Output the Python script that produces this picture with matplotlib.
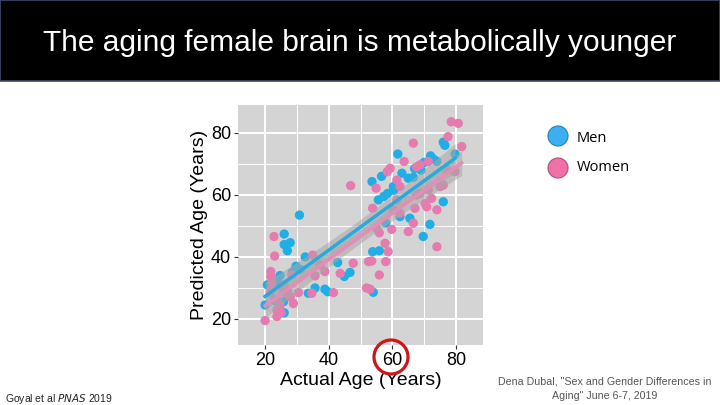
import numpy as np
import matplotlib.pyplot as plt
from matplotlib.patches import Rectangle, Ellipse

plt.rcParams['font.family'] = ['Liberation Sans', 'DejaVu Sans']

# Men (actual age, predicted age)
men_age = [20, 20.7, 23, 24.7, 26, 26, 27, 27.9, 26, 25.8, 30.8, 29.7, 32.6, 33.6,
           35.7, 38.8, 39.7, 42.8, 44.9, 46.7, 53.6, 54, 53.8, 55.9, 56.6, 55.6,
           57.3, 57.9, 61.7, 65.5, 65, 69.7, 71.8, 72, 76, 76.5, 76, 79.7, 74, 69,
           60.3, 62.4, 66.6, 22, 24, 28.5, 31, 63, 67, 70, 73, 58.5, 60.5, 68, 24]
men_pred = [24.5, 31, 26, 34, 47.4, 44, 42, 44.6, 22, 25.6, 53.5, 37, 40, 28.3,
            30, 29.6, 28.8, 38.2, 33.7, 35, 64.3, 28.6, 41.7, 42, 66, 58.4,
            59.5, 51, 73.2, 52.5, 65.4, 46.6, 50.5, 72.6, 77, 76, 57.8, 73.2, 70.8, 68,
            62.7, 53, 65.7, 30, 32, 35, 36, 67, 68.5, 70.5, 71.5, 60.5, 61.5, 69, 22.5]

# Women (actual age, predicted age)
women_age = [20, 22.8, 23, 21.8, 21.8, 22.1, 21.6, 23.7, 23.7, 24.7, 25.8, 26.8,
             27.9, 28.9, 30.5, 28.4, 34.7, 35, 35.7, 37.3, 38.8, 41.5, 43.6, 46.9,
             47.7, 51.9, 53, 52.5, 53.5, 53.8, 55, 55.9, 55.9, 54.9, 57.7, 57.9,
             58.7, 59.8, 58.4, 59.3, 61.4, 62.4, 63.7, 65, 66.6, 66.6, 67.6, 68.7,
             67.1, 68.7, 70.8, 71.3, 71.3, 74, 74, 75, 76, 77.5, 78.5, 80.7, 81.8,
             79.7, 77.1, 70.3, 72.3, 60.3, 62.4, 61.4, 67.6, 22, 24, 26, 27, 25]
women_pred = [19.5, 46.6, 40.3, 35.3, 33.7, 32, 28.3, 23, 20.8, 24.5, 29.4, 28.3,
              27.2, 25, 28.5, 34.2, 28.3, 40.6, 33.9, 37.4, 35.3, 28.5, 34.7, 63,
              38, 30, 29.6, 38.5, 38.7, 55.7, 49.2, 47.8, 34.2, 62.2, 44.4, 38.5,
              41.7, 48.9, 67.5, 68.6, 64.8, 62.7, 70.8, 48.2, 76.7, 50.9, 69, 69.7,
              55.7, 60.5, 56.2, 61.6, 70.8, 55.2, 43.3, 62.7, 63.2, 78.8, 83.6, 83.1, 75.6,
              67.5, 68.1, 57.2, 58.9, 55.2, 54.1, 58.4, 60, 30, 26, 31, 29, 22]

men_col = '#1FAEE6'
women_col = '#E57BAF'

fig = plt.figure(figsize=(7.2, 4.05), dpi=100)

# title bar
fig.patches.append(Rectangle((0, 0.8), 1, 0.2, transform=fig.transFigure,
                             facecolor='black', edgecolor='#3C4C6C', lw=1.2))
fig.text(0.5, 0.893, 'The aging female brain is metabolically younger',
         color='white', fontsize=21.5, ha='center', va='center')

ax = fig.add_axes([0.3306, 0.1481, 0.3403, 0.5926])
ax.set_facecolor('#D4D4D4')
ax.set_xlim(11.5, 88.5)
ax.set_ylim(11.6, 89)
ax.set_xticks([20, 40, 60, 80])
ax.set_yticks([20, 40, 60, 80])
ax.set_xticks([30, 50, 70], minor=True)
ax.set_yticks([30, 50, 70], minor=True)
ax.grid(which='major', color='white', lw=1.4)
ax.grid(which='minor', color='white', lw=0.7)
ax.set_axisbelow(True)
for s in ax.spines.values():
    s.set_visible(False)
ax.tick_params(which='major', length=3, color='#333333', labelsize=13, pad=2)
ax.tick_params(which='minor', length=0)
ax.set_xlabel('Actual Age (Years)', fontsize=14, labelpad=2)
ax.set_ylabel('Predicted Age (Years)', fontsize=14, labelpad=2)

for xs, ys, c, lc in [(men_age, men_pred, men_col, '#2AA8E0'),
                      (women_age, women_pred, women_col, '#E78BB9')]:
    x = np.array(xs)
    y = np.array(ys)
    ax.scatter(x, y, s=45, color=c, edgecolor='none', zorder=3)
    # linear fit with 95% band
    b, a = np.polyfit(x, y, 1)
    xx = np.linspace(x.min(), x.max(), 50)
    yy = a + b * xx
    res = y - (a + b * x)
    s = np.sqrt(np.sum(res ** 2) / (len(x) - 2))
    se = s * np.sqrt(1 / len(x) + (xx - x.mean()) ** 2 / np.sum((x - x.mean()) ** 2))
    ax.fill_between(xx, yy - 1.97 * se, yy + 1.97 * se, color='#A8A8A8', alpha=0.55,
                    lw=0, zorder=4)
    ax.plot(xx, yy, color=lc, lw=2.5, zorder=5)

# red circle around 60
fig.patches.append(Ellipse((391 / 720, 1 - 357 / 405), 34 / 720, 34 / 405,
                           transform=fig.transFigure, fill=False,
                           edgecolor='#D01515', lw=2.3))

# legend
fig.patches.append(Ellipse((558 / 720, 1 - 136 / 405), 20 / 720, 20 / 405,
                           transform=fig.transFigure, facecolor='#3AB0F0',
                           edgecolor='#2A80B8', lw=0.8))
fig.patches.append(Ellipse((558 / 720, 1 - 168 / 405), 20 / 720, 20 / 405,
                           transform=fig.transFigure, facecolor='#F070A8',
                           edgecolor='#B05080', lw=0.8))
fig.text(577 / 720, 1 - 139 / 405, 'Men', fontsize=10.5, va='center',
         family=['Open Sans', 'DejaVu Sans'])
fig.text(577 / 720, 1 - 168 / 405, 'Women', fontsize=10.5, va='center',
         family=['Open Sans', 'DejaVu Sans'])

# footers
fig.text(5 / 720, 1 - 399 / 405, 'Goyal et al $\\it{PNAS}$ 2019', fontsize=7.5,
         va='center', color='#222222')
fig.text(605 / 720, 1 - 381 / 405, 'Dena Dubal, "Sex and Gender Differences in',
         fontsize=7.7, ha='center', va='center', color='#555555')
fig.text(605 / 720, 1 - 396 / 405, 'Aging" June 6-7, 2019',
         fontsize=7.7, ha='center', va='center', color='#555555')

fig.savefig('out.png', dpi=100)
